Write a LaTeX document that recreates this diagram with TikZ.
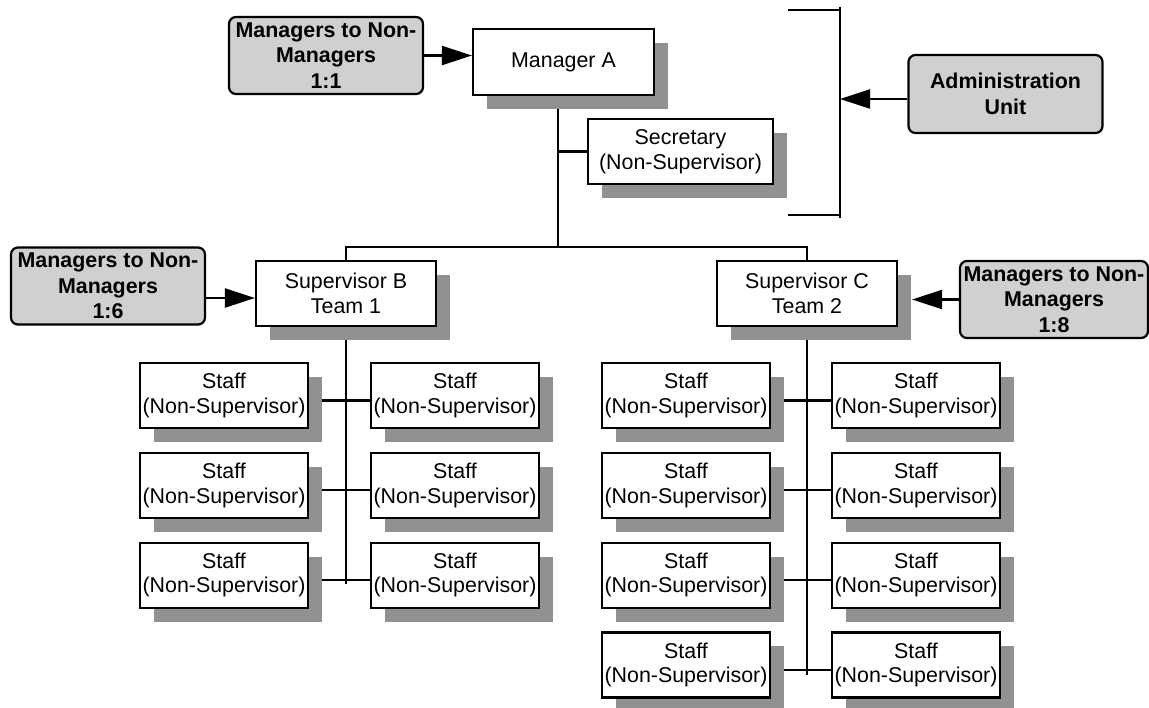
\documentclass[tikz,border=0pt]{standalone}
\usepackage{fontspec}
\setmainfont{Liberation Sans}
\usepackage{tikz}
\usetikzlibrary{arrows.meta,positioning,calc,shadows,backgrounds}
\definecolor{ratiofill}{RGB}{208,208,208}
\definecolor{shadowc}{RGB}{145,145,145}

\begin{document}
\begin{tikzpicture}[
  x=0.5pt, y=-0.5pt,
  font=\fontsize{10.7}{12.3}\selectfont,
  box/.style={draw, align=center, inner sep=1pt, line width=1.1pt},
  unit/.style={box, fill=white, minimum width=84pt, minimum height=32.5pt,
    drop shadow={shadow xshift=7pt, shadow yshift=-7pt, fill=shadowc, opacity=1}},
  ratio/.style={box, fill=ratiofill, rounded corners=3.5pt,
    font=\fontsize{10.7}{12.8}\selectfont\bfseries,
    minimum width=97pt, minimum height=38.5pt},
  link/.style={line width=1.1pt},
  arr/.style={line width=1.1pt, -{Triangle[length=15pt,width=9.5pt]}}
]
\useasboundingbox (0,0) rectangle (1149,707);

% ---- Top: manager and administration ----
\node[ratio] (ratioA) at (326,55.5) {Managers to Non-\\Managers\\1:1};
\node[unit, minimum width=90.5pt, minimum height=33pt] (mgrA) at (563.5,62) {Manager A};
\node[unit, minimum width=92.5pt] (sec) at (680.5,151.5) {Secretary\\(Non-Supervisor)};
\node[ratio, minimum height=39pt] (admin) at (1005.5,94) {Administration\\Unit};

\coordinate (brTL) at (788,10);
\coordinate (brTop) at (840,10);
\coordinate (brBot) at (840,215);
\coordinate (brBL) at (788,215);

% ---- Supervisors ----
\node[ratio] (ratioB) at (108,286) {Managers to Non-\\Managers\\1:6};
\node[unit, minimum width=90pt] (supB) at (346,293.5) {Supervisor B\\Team 1};
\node[unit, minimum width=90pt] (supC) at (807,293.5) {Supervisor C\\Team 2};
\node[ratio, minimum width=94pt] (ratioC) at (1054,299.5) {Managers to Non-\\Managers\\1:8};

% ---- Staff ----
\foreach \r/\y in {1/395.5,2/485.3,3/575.1}{
  \node[unit] (bL\r) at (224,\y) {Staff\\(Non-Supervisor)};
  \node[unit] (bR\r) at (455,\y) {Staff\\(Non-Supervisor)};
}
\foreach \r/\y in {1/395.5,2/485.3,3/575.1,4/664.9}{
  \node[unit] (cL\r) at (686,\y) {Staff\\(Non-Supervisor)};
  \node[unit] (cR\r) at (916,\y) {Staff\\(Non-Supervisor)};
}

% ---- Lines ----
\begin{scope}[on background layer]
\coordinate (barMid) at (558,247);
\coordinate (endB) at (346,584);
\coordinate (endC) at (807,675);
\draw[link] (mgrA.south -| barMid) -- (barMid);
\draw[link] (sec.west) -- (sec.west -| barMid);
\draw[link] (supB.north) |- (barMid) -| (supC.north);
\draw[link] (supB.south) -- (endB);
\draw[link] (supC.south) -- (endC);
\foreach \r in {1,2,3}
  \draw[link] ($(bL\r.east)+(0,5)$) -- ($(bR\r.west)+(0,5)$);
\foreach \r in {1,2,3,4}
  \draw[link] ($(cL\r.east)+(0,5)$) -- ($(cR\r.west)+(0,5)$);
\end{scope}

% ---- Bracket ----
\draw[link] (brTL) -- (brTop);
\draw[link] (brBL) -- (brBot);
\draw[link] ($(brTop)+(0,-3)$) -- ($(brBot)+(0,3)$);

% ---- Arrows ----
\draw[arr] (ratioA.east) -- (ratioA.east -| mgrA.west);
\draw[arr] ($(admin.west)+(0,5)$) -- ($(admin.west -| brTop)+(0,5)$);
\draw[arr] ($(ratioB.east)+(0,12)$) -- ($(ratioB.east -| supB.west)+(0,12)$);
\draw[arr] (ratioC.west) -- ($(ratioC.west -| supC.east)+(14,0)$);

\end{tikzpicture}
\end{document}
